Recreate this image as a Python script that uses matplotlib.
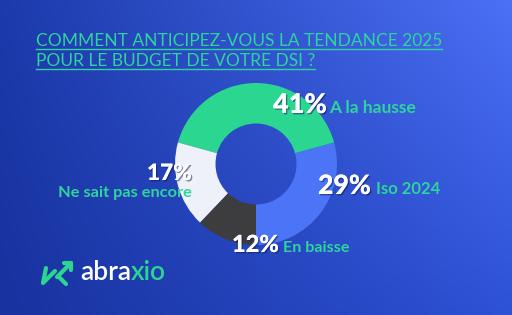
import numpy as np
import matplotlib
matplotlib.use("Agg")
import matplotlib.pyplot as plt
import matplotlib.patheffects as pe

# ---- data ----
categories = ["Iso 2024", "A la hausse", "Ne sait pas encore", "En baisse"]
values = [29, 41, 17, 12]
pct_labels = ["29%", "41%", "17%", "12%"]
title_lines = ["COMMENT ANTICIPEZ-VOUS LA TENDANCE 2025", "POUR LE BUDGET DE VOTRE DSI ?"]

# ---- style ----
slice_colors = ["#4b74f6", "#2bd690", "#eef0fa", "#3d3d3f"]
green = "#2dd49c"
W, H = 512, 315

fig = plt.figure(figsize=(W / 100, H / 100), dpi=100)
bg = fig.add_axes([0, 0, 1, 1], zorder=0)
bg.set_xlim(0, W)
bg.set_ylim(H, 0)
bg.axis("off")

# background gradient (bilinear)
tl = np.array([28, 58, 171]) / 255
tr = np.array([76, 112, 246]) / 255
bl = np.array([24, 50, 158]) / 255
br = np.array([46, 82, 214]) / 255
u = np.linspace(0, 1, 256)[None, :, None]
v = np.linspace(0, 1, 160)[:, None, None]
img = (1 - v) * ((1 - u) * tl + u * tr) + v * ((1 - u) * bl + u * br)
bg.imshow(img, extent=[0, W, H, 0], aspect="auto", zorder=0)

# donut
cx, cy, R = 256, 164, 81
pax = fig.add_axes([(cx - R) / W, (H - cy - R) / H, 2 * R / W, 2 * R / H], zorder=1)
pax.pie(values, colors=slice_colors, startangle=-90, counterclock=True,
        wedgeprops=dict(width=0.5, linewidth=0))
pax.set_xlim(-1, 1)
pax.set_ylim(-1, 1)
pax.set_aspect("equal")
pax.axis("off")

# overlay for text
fg = fig.add_axes([0, 0, 1, 1], zorder=2)
fg.set_xlim(0, W)
fg.set_ylim(H, 0)
fg.axis("off")
fg.patch.set_alpha(0)

renderer = fig.canvas.get_renderer()


def fit_text(x, y, s, target_w, size, ha="left", **kw):
    t = fg.text(x, y, s, fontsize=size, ha=ha, va="baseline", **kw)
    for _ in range(3):
        w = t.get_window_extent(renderer).width
        size = size * target_w / w
        t.set_fontsize(size)
    return t

# title with underline
title_font = "Lato"
t1 = fit_text(36, 46, title_lines[0], 406, 13, color=green, family=title_font)
t2 = fg.text(36, 66, title_lines[1], fontsize=t1.get_fontsize(), color=green,
             family=title_font, va="baseline")
for t, yy in ((t1, 48.5), (t2, 68.5)):
    ext = t.get_window_extent(renderer)
    fg.plot([ext.x0, ext.x1], [yy, yy], color=green, lw=1.0, zorder=3)

shadow = [pe.withSimplePatchShadow(offset=(1, -1), shadow_rgbFace="#0a1a5a", alpha=0.5), pe.Normal()]

pct_kw = dict(color="white", family="Lato", fontweight="black")
lab_kw = dict(color=green, family="Lato", fontweight="bold")

# Iso 2024
p = fit_text(318, 194, pct_labels[0], 53, 15, **pct_kw)
p.set_path_effects(shadow)
fit_text(376, 194, categories[0], 64, 11, **lab_kw)
# A la hausse
p = fit_text(273, 113, pct_labels[1], 54, 15, **pct_kw)
p.set_path_effects(shadow)
fit_text(329, 113, categories[1], 87, 11, **lab_kw)
# Ne sait pas encore
p = fit_text(192, 180, pct_labels[2], 45, 15, ha="right", **pct_kw)
p.set_path_effects(shadow)
fit_text(192, 197, categories[2], 133, 11, ha="right", **lab_kw)
# En baisse
p = fit_text(232, 252, pct_labels[3], 47, 15, **pct_kw)
p.set_path_effects(shadow)
fit_text(283, 252, categories[3], 67, 11, **lab_kw)

# logo
lg = dict(color="#2bd690", lw=3.0, solid_capstyle="round", solid_joinstyle="round", zorder=4)
fg.plot([64, 71, 71], [263, 263, 270], **lg)
fg.plot([71, 57], [263, 277], **lg)
fg.plot([59, 66], [277, 284], **lg)
fg.plot([46, 43, 55], [268, 283, 271], **lg)
a = fg.text(80, 280, "abra", fontsize=19, color="white", family="Lato",
            fontweight="semibold", va="baseline")
ex = a.get_window_extent(renderer)
fg.text(ex.x1, 280, "xio", fontsize=19, color="#2bd690", family="Lato",
        fontweight="semibold", va="baseline")

fig.savefig("out.png", dpi=100)
